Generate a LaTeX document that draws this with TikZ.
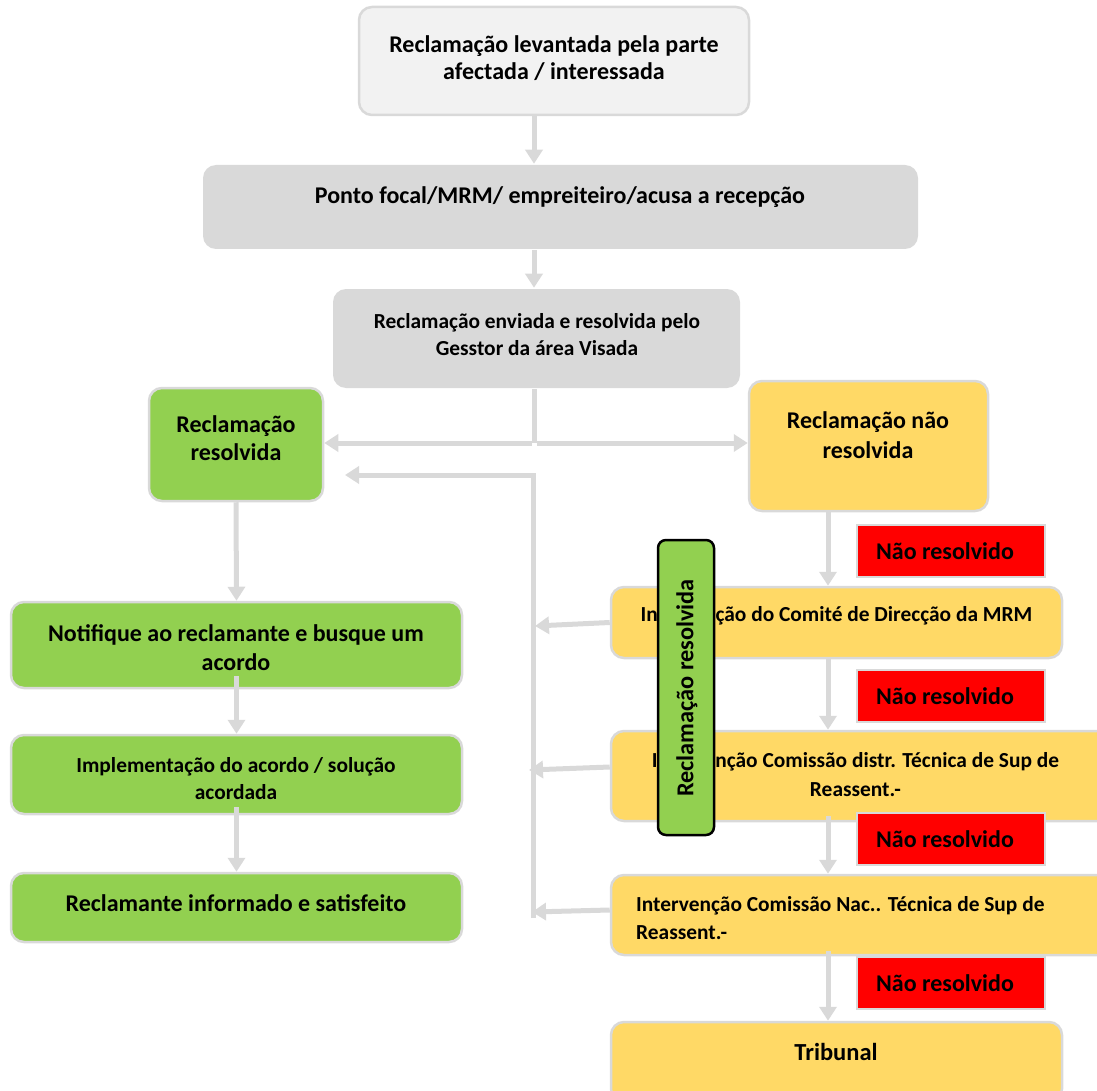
\documentclass[tikz,border=0pt]{standalone}
\usepackage{fontspec}
\setmainfont{Carlito}
\usetikzlibrary{arrows.meta}
\definecolor{lgray}{HTML}{F2F2F2}
\definecolor{mgray}{HTML}{D9D9D9}
\definecolor{bgreen}{HTML}{92D050}
\definecolor{byellow}{HTML}{FFD966}
\definecolor{bred}{HTML}{FF0000}
\tikzset{
  box/.style={draw=mgray, line width=2.5pt, rounded corners=13pt, inner sep=0pt},
  redbox/.style={draw=mgray, line width=2pt, fill=bred, inner sep=0pt, minimum width=188pt, minimum height=52pt},
  flow/.style={draw=mgray, line width=5pt, -{Triangle[width=17pt,length=14pt]}},
  plain/.style={draw=mgray, line width=5pt},
  txt/.style={inner sep=0pt, font=\bfseries, align=center},
  big/.style={font=\bfseries\fontsize{24}{27}\selectfont},
  mid/.style={font=\bfseries\fontsize{21.4}{27}\selectfont}
}
\begin{document}
\begin{tikzpicture}[x=1pt,y=-1pt]
\useasboundingbox (0,0) rectangle (1097,1091);
% top column
\node[box, fill=lgray, minimum width=390pt, minimum height=108pt] (top) at (554,61) {};
\node[txt, big] (topt) at (554,58.5) {Reclamação levantada pela parte\\afectada / interessada};
\node[box, draw=none, fill=mgray, minimum width=715pt, minimum height=84pt] (focal) at (560.5,207) {};
\node[txt, big] (focalt) at (560,197) {Ponto focal/MRM/ empreiteiro/acusa a recepção};
\node[box, draw=none, fill=mgray, minimum width=407pt, minimum height=99pt] (env) at (536.5,338.5) {};
\node[txt, mid] (envt) at (537,334.5) {Reclamação enviada e resolvida pelo\\Gesstor da área Visada};
% branches
\node[box, fill=bgreen, minimum width=174pt, minimum height=113pt] (res) at (236,444.5) {};
\node[txt, font=\bfseries\fontsize{24}{28}\selectfont] (rest) at (236,438) {Reclamação\\resolvida};
\node[box, fill=byellow, minimum width=239pt, minimum height=130pt] (nres) at (868.5,446) {};
\node[txt, font=\bfseries\fontsize{24}{30}\selectfont] (nrest) at (868,435) {Reclamação não\\resolvida};
% left column
\node[box, fill=bgreen, minimum width=451pt, minimum height=86pt] (notif) at (236.5,645) {};
\node[txt, font=\bfseries\fontsize{24}{29}\selectfont] (notift) at (236,647.5) {Notifique ao reclamante e busque um\\acordo};
\node[box, fill=bgreen, minimum width=451pt, minimum height=79pt] (impl) at (236.5,774.5) {};
\node[txt, mid] (implt) at (236,778.5) {Implementação do acordo / solução\\acordada};
\node[box, fill=bgreen, minimum width=451pt, minimum height=69pt] (sat) at (236.5,907.5) {};
\node[txt, big] (satt) at (236,903) {Reclamante informado e satisfeito};
% right column
\node[box, fill=byellow, minimum width=451pt, minimum height=71pt] (comite) at (836.5,622.5) {};
\node[txt, mid] (comitet) at (836.5,616) {Intervenção do Comité de Direcção da MRM};
\node[box, fill=byellow, minimum width=500pt, minimum height=90pt] (distr) at (861,776) {};
\node[txt, font=\bfseries\fontsize{21.4}{29}\selectfont] (distrt) at (855.5,774.5) {Intervenção Comissão distr. Técnica de Sup de\\Reassent.-};
\node[box, fill=byellow, minimum width=500pt, minimum height=80pt] (nac) at (861,915) {};
\node[txt, align=left, anchor=west, font=\bfseries\fontsize{21.4}{28}\selectfont] (nact) at (636,918) {Intervenção Comissão Nac.. Técnica de Sup de\\Reassent.-};
\node[box, fill=byellow, minimum width=451pt, minimum height=80pt] (trib) at (836.5,1062) {};
\node[txt, font=\bfseries\fontsize{24.5}{27}\selectfont] (tribt) at (836,1052) {Tribunal};
% red labels
\node[redbox] (nr1) at (951,551) {};
\node[redbox] (nr2) at (951,696) {};
\node[redbox] (nr3) at (951,839) {};
\node[redbox] (nr4) at (951,983) {};
\node[txt, big] (nr1t) at (945,551) {Não resolvido};
\node[txt, big] (nr2t) at (945,696) {Não resolvido};
\node[txt, big] (nr3t) at (945,839) {Não resolvido};
\node[txt, big] (nr4t) at (945,983) {Não resolvido};
% collector
\coordinate (ctop) at (533,475);
\coordinate (cbot) at (533,918);
\coordinate (split) at (534,443);
% arrows
\draw[flow] (top.south -| 534,0) -- (focal.north -| 534,0);
\draw[flow] (focal.south -| 534,0) -- (env.north -| 534,0);
\draw[plain] (env.south -| 534,0) -- (split);
\draw[flow] ([xshift=-2.5pt]split) -- (res.east |- split);
\draw[flow] ([xshift=2.5pt]split) -- (nres.west |- split);
\draw[plain] (cbot) -- (ctop);
\draw[flow] ([xshift=2.5pt]ctop) -- (345,475);
\draw[flow] (comite.west) -- (535,626);
\draw[flow] (distr.west |- 0,767) -- (529,770);
\draw[flow] (nac.west |- 0,910) -- (532,912);
\draw[flow] (res.south) -- (notif.north);
\draw[flow] ([yshift=13pt]notif.south) -- (impl.north);
\draw[flow] ([yshift=8pt]impl.south) -- (sat.north);
\draw[flow] (nres.south -| 828,0) -- (comite.north -| 828,0);
\draw[flow] (comite.south -| 828,0) -- (distr.north -| 828,0);
\draw[flow] ([yshift=6pt]distr.south -| 828,0) -- (nac.north -| 828,0);
\draw[flow] ([yshift=5pt]nac.south -| 828,0) -- (trib.north -| 828,0);
% vertical green label
\node[draw=black, line width=2.5pt, fill=bgreen, rounded corners=8pt, minimum width=56pt, minimum height=295pt, inner sep=0pt] (vres) at (686,687.5) {};
\node[txt, rotate=90, font=\bfseries\fontsize{24.3}{26}\selectfont] (vrest) at (687,688) {Reclamação resolvida};
\end{tikzpicture}
\end{document}
